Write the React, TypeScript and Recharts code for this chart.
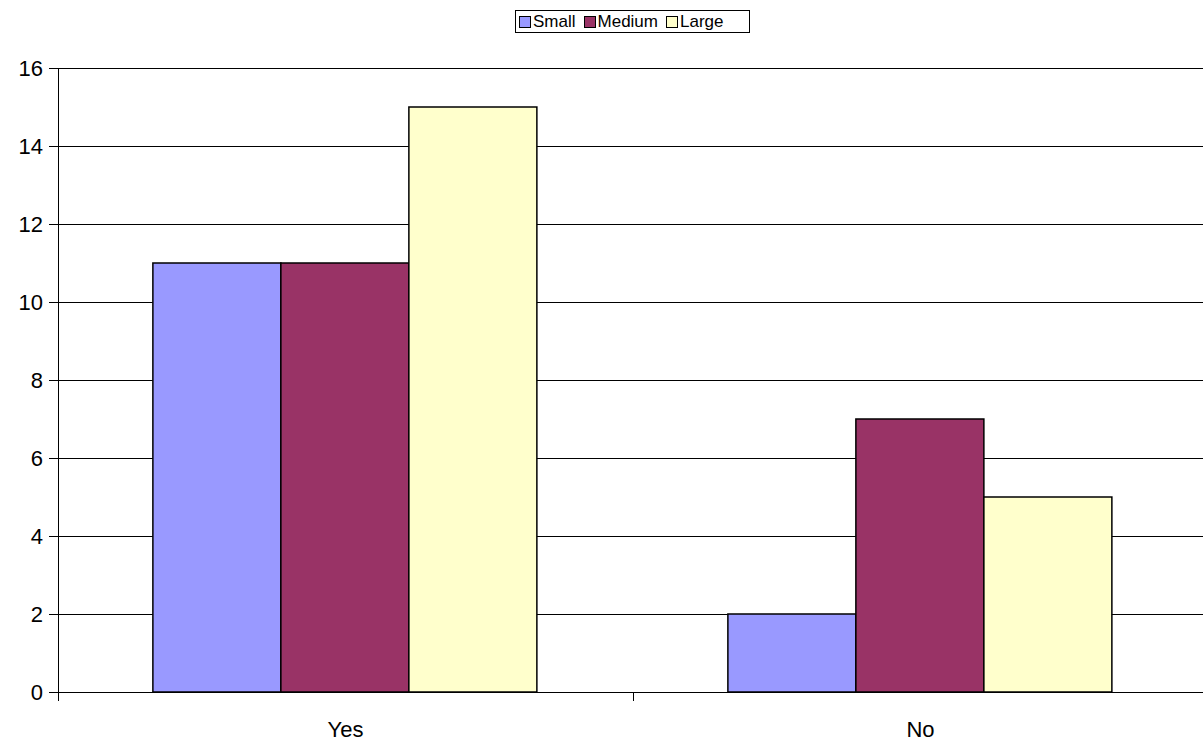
import React from "react";
import { BarChart, Bar, XAxis, YAxis, CartesianGrid } from "recharts";

const categories = ["Yes", "No"];
const small = [11, 2];
const medium = [11, 7];
const large = [15, 5];
const yTicks = [0, 2, 4, 6, 8, 10, 12, 14, 16];

const series = [
  { key: "Small", values: small, color: "#9999FF" },
  { key: "Medium", values: medium, color: "#993366" },
  { key: "Large", values: large, color: "#FFFFCC" },
];

const data = categories.map((name, i) => {
  const row: Record<string, string | number> = { name };
  series.forEach((s) => (row[s.key] = s.values[i]));
  return row;
});

const FONT = "Arial, 'Liberation Sans', sans-serif";

// category label at the centre, tick mark at the left edge of the band
const CategoryTick = (props: any) => {
  const { x, y, payload, width } = props;
  const band = width / categories.length;
  const left = Math.round(x - band / 2) + 0.5;
  return (
    <g>
      <line x1={left} y1={y - 8} x2={left} y2={y + 1} stroke="#000" strokeWidth={1} />
      <text x={x} y={y + 37} textAnchor="middle" fontSize={22} fontFamily={FONT} fill="#000">
        {payload.value}
      </text>
    </g>
  );
};

function LegendBox() {
  return (
    <div
      style={{
        position: "absolute",
        left: 515,
        top: 10,
        width: 227,
        height: 21,
        padding: "0 3px",
        border: "1px solid #000",
        display: "flex",
        alignItems: "center",
        gap: 8,
        fontFamily: FONT,
        fontSize: 17,
        background: "#fff",
      }}
    >
      {series.map((s) => (
        <span key={s.key} style={{ display: "flex", alignItems: "center", gap: 2 }}>
          <span
            style={{
              width: 10,
              height: 10,
              background: s.color,
              border: "1.5px solid #000",
              display: "inline-block",
            }}
          />
          {s.key}
        </span>
      ))}
    </div>
  );
}

export default function App() {
  return (
    <div style={{ position: "absolute", left: 0, top: 0, width: 1203, height: 744, overflow: "hidden", background: "#fff" }}>
      <BarChart
        width={1208}
        height={744}
        data={data}
        margin={{ top: 68, right: 0, bottom: 0, left: 0 }}
        barCategoryGap="16.5%"
        barGap={0}
      >
        <CartesianGrid vertical={false} stroke="#000" strokeWidth={1} shapeRendering="crispEdges" />
        <XAxis
          dataKey="name"
          height={52}
          axisLine={{ stroke: "#000", shapeRendering: "crispEdges" }}
          tickLine={false}
          tick={<CategoryTick />}
          interval={0}
        />
        <YAxis
          width={58}
          domain={[0, 16]}
          ticks={yTicks}
          interval={0}
          axisLine={{ stroke: "#000", shapeRendering: "crispEdges" }}
          tickLine={{ stroke: "#000", shapeRendering: "crispEdges" }}
          tickSize={9}
          tickMargin={6}
          tick={{ fill: "#000", fontSize: 22, fontFamily: FONT }}
        />
        {series.map((s) => (
          <Bar
            key={s.key}
            dataKey={s.key}
            fill={s.color}
            stroke="#000"
            strokeWidth={1.5}
            isAnimationActive={false}
          />
        ))}
      </BarChart>
      <LegendBox />
    </div>
  );
}
